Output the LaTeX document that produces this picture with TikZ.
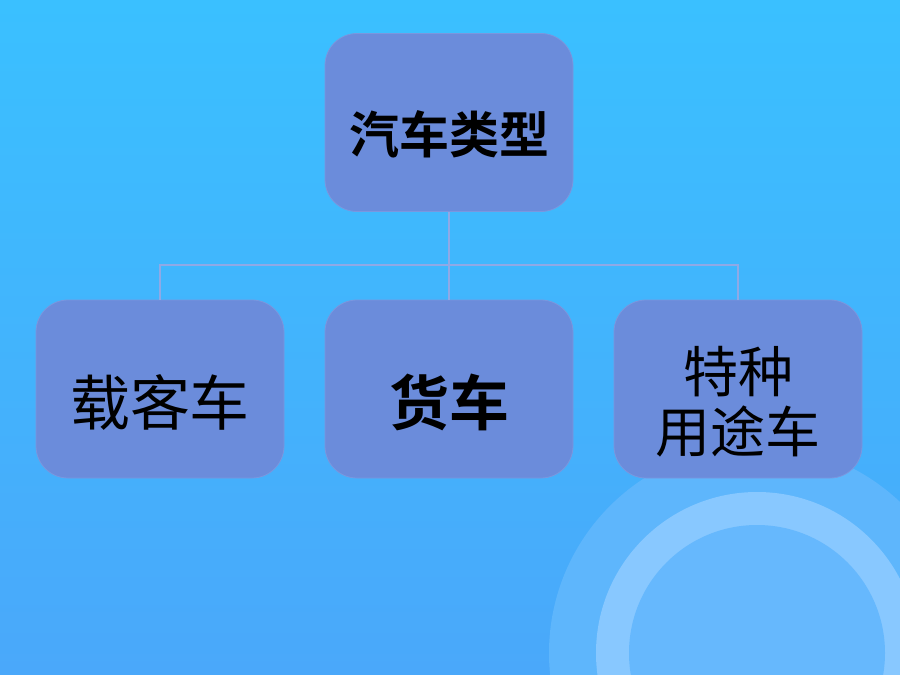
\documentclass[tikz,border=0pt]{standalone}
\usepackage{fontspec}
\newfontfamily\cjk{Noto Sans CJK SC}
\newfontfamily\cjkb{Noto Sans CJK SC Bold}
\definecolor{bgtop}{HTML}{3AC0FF}
\definecolor{bgbot}{HTML}{4AA8FA}
\definecolor{boxfill}{HTML}{6B8CDB}
\definecolor{linecol}{HTML}{8FA9E6}
\definecolor{disk}{HTML}{5EB6FC}
\definecolor{ring}{HTML}{88C8FF}
\definecolor{inner}{HTML}{66B8FD}
\tikzset{
  catbox/.style={draw=boxfill!90!white, line width=0.8pt, fill=boxfill, rounded corners=32pt,
    minimum width=248pt, minimum height=178pt, inner sep=0pt, align=center, text=black,
    text depth=0pt},
  conn/.style={draw=linecol, line width=2.6pt}
}
\begin{document}
\begin{tikzpicture}[x=1pt,y=-1pt]
\useasboundingbox (0,0) rectangle (900,675);
\shade[top color=bgtop, bottom color=bgbot] (0,0) rectangle (900,675);
\begin{scope}
\clip (0,0) rectangle (900,675);
\fill[disk] (757,653) circle (208);
\fill[ring] (757,653) circle (161);
\fill[inner] (757,653) circle (128);
\end{scope}
\node[catbox, text height=61pt, font=\cjkb\fontsize{50}{58}\selectfont] (top) at (449,122.5) {汽车类型};
\node[catbox, text height=72pt, font=\cjk\fontsize{60}{66}\selectfont] (a) at (160,389) {载客车};
\node[catbox, text height=72pt, font=\cjkb\fontsize{60}{66}\selectfont] (b) at (449,389) {货车};
\node[catbox, text height=50pt, font=\cjk\fontsize{55}{56}\selectfont] (c) at (738,389) {\begin{tabular}{@{}c@{}}特种\\[-3pt]用途车\end{tabular}};
\coordinate (j) at (449,265);
\draw[conn] (top.south) -- (j);
\draw[conn] (a.north) |- (j) -| (c.north);
\draw[conn] (j) -- (b.north);
\end{tikzpicture}
\end{document}
